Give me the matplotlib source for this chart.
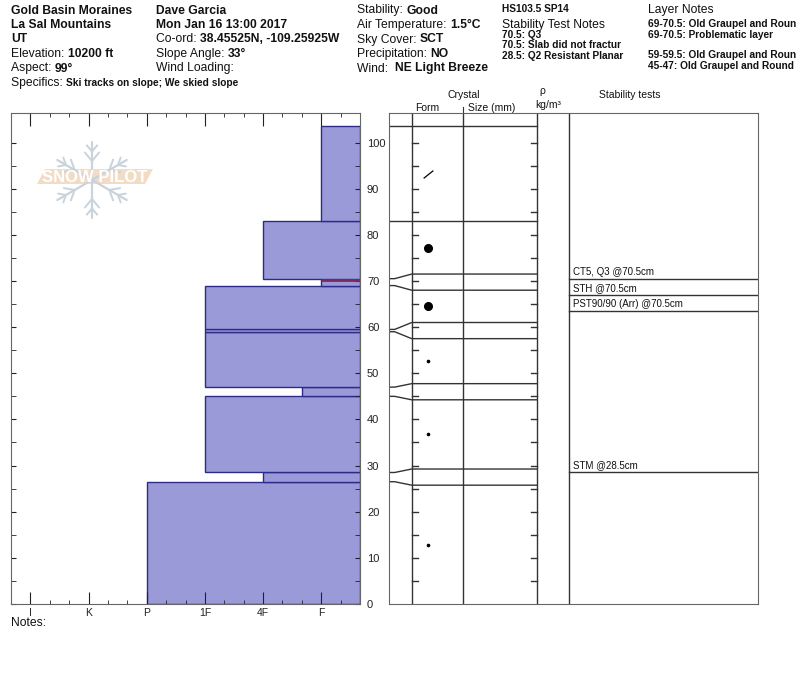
import numpy as np
import matplotlib.pyplot as plt
from matplotlib.patches import Polygon
from matplotlib.path import Path

plt.rcParams['font.family'] = ['Liberation Sans', 'DejaVu Sans']

# header info
site_lines = ['Gold Basin Moraines', 'La Sal Mountains', 'UT']
elevation = '10200 ft'
aspect = '99°'
specifics = 'Ski tracks on slope; We skied slope'
observer = 'Dave Garcia'
obs_date = 'Mon Jan 16 13:00 2017'
coords = '38.45525N, -109.25925W'
slope_angle = '33°'
wind_loading = ''
stability = 'Good'
air_temp = '1.5°C'
sky_cover = 'SCT'
precip = 'NO'
wind = 'NE Light Breeze'
hs_line = 'HS103.5 SP14'
test_notes = ['70.5: Q3', '70.5: Slab did not fractur', '28.5: Q2 Resistant Planar']
layer_notes = ['69-70.5: Old Graupel and Roun', '69-70.5: Problematic layer', '',
               '59-59.5: Old Graupel and Roun', '45-47: Old Graupel and Round']

# snow layers, ground up (cm)
layer_bottom = [0, 26.5, 28.5, 45, 47, 59, 59.5, 69, 70.5, 83]
layer_top = [26.5, 28.5, 45, 47, 59, 59.5, 69, 70.5, 83, 103.5]
# hand hardness: I=1, K=2, P=3, 1F=4, 4F=5, F=6
layer_hardness = [3, 5, 4, 5.667, 4, 4, 4, 6, 5, 6]
layer_form = ['dot', '', 'dot', '', 'dot', '', 'RG', '', 'RG', 'DF']
flagged_layer = 7
hardness_labels = ['I', 'K', 'P', '1F', '4F', 'F']

# stability tests
test_names = ['CT5, Q3', 'STH', 'PST90/90 (Arr)', 'STM']
test_depths = [70.5, 70.5, 70.5, 28.5]

H_MAX = 6 + 2 / 3
Y_TOP = 106.4
MIN_T = 3.5  # minimum displayed layer thickness in the table

fig = plt.figure(figsize=(8, 6.76), dpi=100)

# ---- hardness profile ----
ax = fig.add_axes([11 / 800, 72 / 676, 349 / 800, 491 / 676])
b = np.array(layer_bottom)
t = np.array(layer_top)
h = np.array(layer_hardness)
ax.barh(b, H_MAX - h, left=h, height=t - b, align='edge',
        color='#9a9ad8', edgecolor='#2c2c88', linewidth=1)
fl = flagged_layer
ax.plot([h[fl], H_MAX], [t[fl] - 0.3] * 2, color='#7a2a5a', lw=2, solid_capstyle='butt')
ax.set_xlim(2 / 3, H_MAX)
ax.set_ylim(0, Y_TOP)
ax.set_xticks(range(1, 7))
ax.set_xticklabels(hardness_labels)
ax.set_xticks(np.arange(2 / 3, H_MAX + 0.01, 1 / 3), minor=True)
ax.tick_params(axis='x', which='both', direction='in', top=True, bottom=True, colors='#222222')
ax.tick_params(axis='x', which='major', length=9, labelsize=7.5, pad=3)
ax.tick_params(axis='x', which='minor', length=3)
ax.set_yticks(range(0, 101, 10))
ax.set_yticks(range(5, 101, 10), minor=True)
ax.tick_params(axis='y', which='both', direction='in', left=True, right=True,
               labelleft=False, labelright=True, length=3.5, labelsize=8, pad=5, colors='#222222')
for s in ax.spines.values():
    s.set_color('#666666')

# ---- layer table ----
ax2 = fig.add_axes([389 / 800, 72 / 676, 368.7 / 800, 491 / 676])
ax2.set_xlim(0, 368.7)
ax2.set_ylim(0, Y_TOP)
ax2.set_xticks([])
ax2.set_yticks([])
for s in ax2.spines.values():
    s.set_color('#666666')
line_kw = dict(color='#333333', lw=1)
x_form, x_size, x_rho, x_tests = 22.7, 74.3, 148.3, 180.3
for x in (x_form, x_size, x_rho, x_tests):
    ax2.plot([x, x], [0, Y_TOP], **line_kw)
for d in range(5, 101, 5):
    ax2.plot([x_form, x_form + 6], [d, d], **line_kw)
    ax2.plot([x_rho - 6, x_rho], [d, d], **line_kw)

n = len(layer_bottom)
thin = [(layer_top[i] - layer_bottom[i]) < MIN_T for i in range(n)]
d_bot = list(layer_bottom)
d_top = list(layer_top)
for i in range(n):
    if thin[i]:
        c = (layer_bottom[i] + layer_top[i]) / 2
        d_bot[i], d_top[i] = c - MIN_T / 2, c + MIN_T / 2
for i in range(n):
    if not thin[i]:
        if i > 0 and thin[i - 1]:
            d_bot[i] = d_top[i - 1]
        if i < n - 1 and thin[i + 1]:
            d_top[i] = d_bot[i + 1]
for i in range(n):
    real, disp = layer_top[i], d_top[i]
    ax2.plot([0, 5.7, x_form, x_rho], [real, real, disp, disp], **line_kw)

for i in range(n):
    yc = (d_bot[i] + d_top[i]) / 2
    f = layer_form[i]
    if f == 'RG':
        ax2.plot(39, yc, 'o', color='black', ms=5.5)
    elif f == 'dot':
        ax2.plot(39, yc, 'o', color='black', ms=1.6)
    elif f == 'DF':
        ax2.plot(39, yc, marker=Path([(-1, -0.8), (1, 0.8)], [Path.MOVETO, Path.LINETO]),
                 color='black', ms=7, mew=0.9)

seen = {}
for name, dep in zip(test_names, test_depths):
    k = seen.get(dep, 0)
    seen[dep] = k + 1
    yl = dep - MIN_T * k
    ax2.plot([x_tests, 368.7], [yl, yl], **line_kw)
    ax2.annotate(f'{name} @{dep}cm', (x_tests + 4, yl), xytext=(0, 1.5),
                 textcoords='offset points', fontsize=7, va='bottom', ha='left', color='#111111')

# ---- header text and logo (pixel coordinates) ----
at = fig.add_axes([0, 0, 1, 1])
at.set_xlim(0, 800)
at.set_ylim(676, 0)
at.axis('off')


def field(x, y, label, value='', size=8.7, vsize=None, bold_label=False):
    tx = at.text(x, y, label, fontsize=size, va='baseline', ha='left',
                 fontweight='bold' if bold_label else 'normal', color='#111111')
    if value:
        at.annotate(value, xy=(1, y), xycoords=(tx, 'data'), fontsize=vsize or size,
                    fontweight='bold', va='baseline', ha='left', color='#111111')
    return tx


base = [13.5, 28, 42.5, 57, 71.5, 86]
for i, s in enumerate(site_lines):
    field(11, base[i], s, bold_label=True)
field(11, base[3], 'Elevation: ', elevation)
field(11, base[4], 'Aspect: ', aspect)
field(11, base[5], 'Specifics: ', specifics, vsize=7.3)

field(156, base[0], observer, bold_label=True)
field(156, base[1], obs_date, bold_label=True)
field(156, base[2], 'Co-ord: ', coords)
field(156, base[3], 'Slope Angle: ', slope_angle)
field(156, base[4], 'Wind Loading: ', wind_loading)

field(357, base[0], 'Stability: ', stability)
field(357, base[1], 'Air Temperature: ', air_temp)
field(357, base[2], 'Sky Cover: ', sky_cover)
field(357, base[3], 'Precipitation: ', precip)
field(357, base[4], 'Wind:  ', wind)

field(502, 11.7, hs_line, size=7.3, bold_label=True)
field(502, 28.3, 'Stability Test Notes')
for i, s in enumerate(test_notes):
    field(502, 37.7 + 10.5 * i, s, size=7.3, bold_label=True)

field(648, 13, 'Layer Notes')
for i, s in enumerate(layer_notes):
    if s:
        field(648, 27 + 10.5 * i, s, size=7.3, bold_label=True)

hk = dict(fontsize=7.5, color='#111111', va='baseline')
at.text(463.5, 98, 'Crystal', ha='center', **hk)
at.text(427, 111, 'Form', ha='center', **hk)
at.text(467.5, 111, 'Size (mm)', ha='left', **hk)
at.text(542.5, 93.5, 'ρ', ha='center', **hk)
at.text(548.5, 108.5, 'kg/m³', ha='center', **hk)
at.text(629.5, 98, 'Stability tests', ha='center', **hk)
at.plot([463.3, 463.3], [107, 111.5], color='#333333', lw=0.8)
at.text(11, 626.5, 'Notes:', fontsize=8.7, va='baseline', ha='left', color='#111111')

# snowflake logo
cx, cy = 92, 180
flake = '#c9d3db'
for ang in (90, 30, -30, -90, -150, 150):
    L = 38 if abs(ang) == 90 else 40
    a = np.radians(ang)
    ux, uy = np.cos(a), -np.sin(a)
    at.plot([cx, cx + L * ux], [cy, cy + L * uy], color=flake, lw=1.6, solid_capstyle='round')
    for frac, bl in ((0.5, 11), (0.75, 8)):
        px, py = cx + frac * L * ux, cy + frac * L * uy
        for side in (1, -1):
            ba = a + side * np.radians(40)
            at.plot([px, px + bl * np.cos(ba)], [py, py - bl * np.sin(ba)],
                    color=flake, lw=1.4, solid_capstyle='round')
at.add_patch(Polygon([(37, 184), (45, 169), (153, 169), (145, 184)], closed=True,
                     facecolor='#f3dcc6', edgecolor='none'))
at.text(95, 177, 'SNOW PILOT', fontsize=12, fontweight='bold', color='white',
        ha='center', va='center')

fig.savefig('out.png', dpi=100)
